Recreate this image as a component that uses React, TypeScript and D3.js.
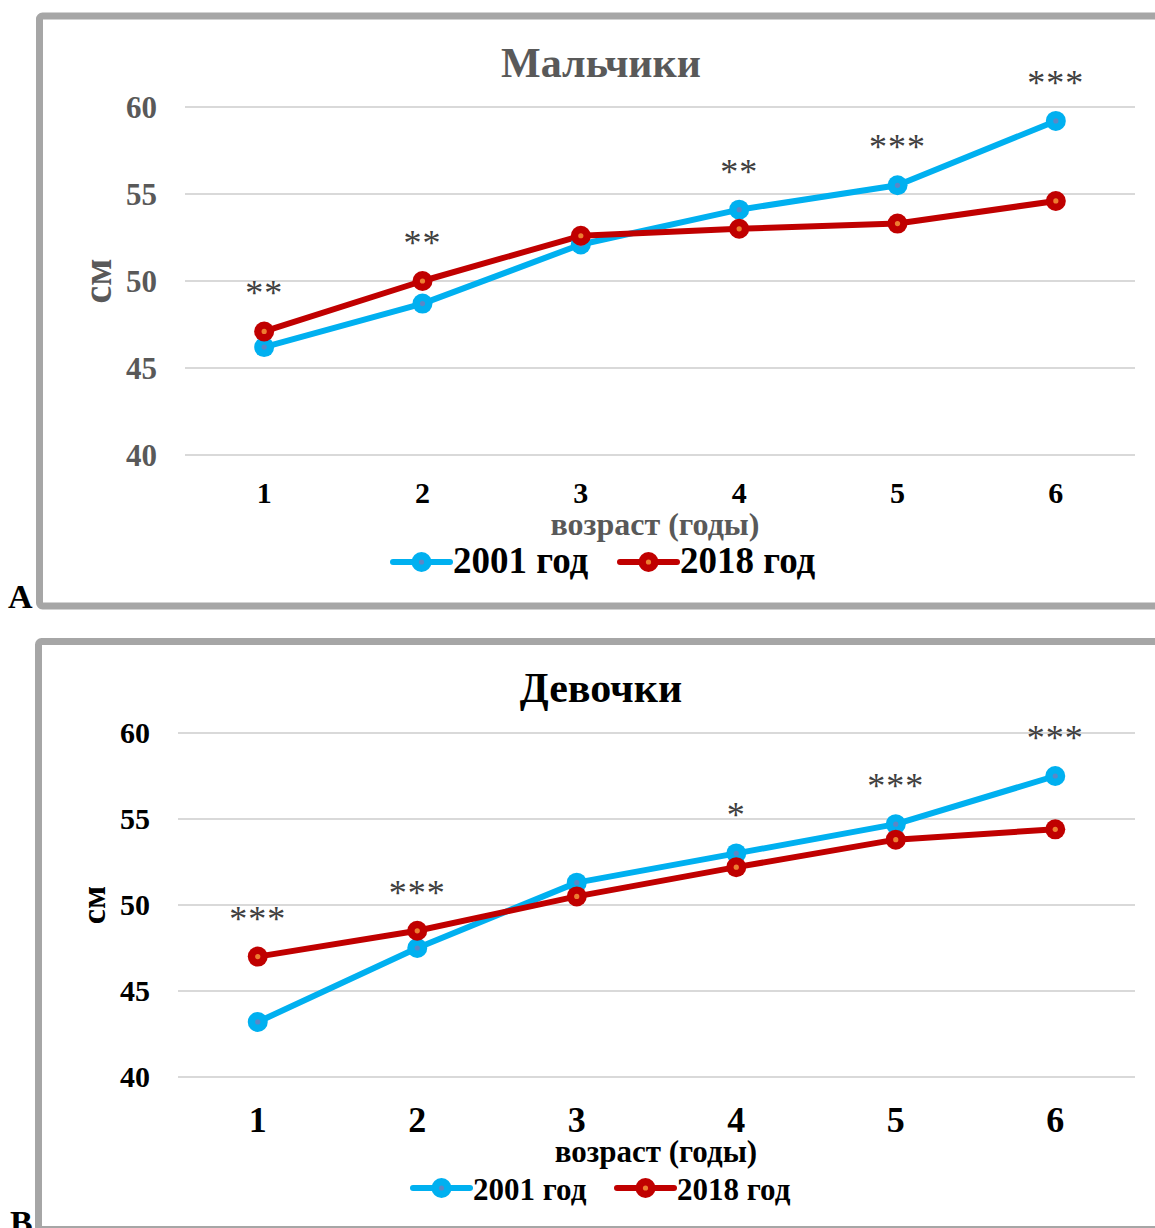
import React from "react";
import * as d3 from "d3";

const ages = ["1", "2", "3", "4", "5", "6"];
const yTicks = [40, 45, 50, 55, 60];
const seriesNames = ["2001 год", "2018 год"];
const boys2001 = [46.2, 48.7, 52.1, 54.1, 55.5, 59.2];
const boys2018 = [47.1, 50.0, 52.6, 53.0, 53.3, 54.6];
const boysSig = ["**", "**", "", "**", "***", "***"];
const girls2001 = [43.2, 47.5, 51.3, 53.0, 54.7, 57.5];
const girls2018 = [47.0, 48.5, 50.5, 52.2, 53.8, 54.4];
const girlsSig = ["***", "***", "", "*", "***", "***"];

const FONT = "'Liberation Serif', 'Times New Roman', serif";
const BLUE = "#00b0f0";
const RED = "#c00000";
const BLUE_DOT = "#5b87c6";
const RED_DOT = "#ed7d31";

type Layout = {
  frameX: number; frameY: number; frameBottom: number;
  letter: string; letterX: number; letterY: number;
  title: string; titleColor: string; titleY: number; titleSize: number;
  plotLeft: number; plotRight: number; yTop: number; yBottom: number;
  tickColor: string; tickRight: number; tickSize: number;
  cmX: number; cmSize: number;
  xLabelY: number; xLabelSize: number;
  axisTitleY: number; axisTitleSize: number; axisTitleColor: string; axisTitleX: number;
  legendY: number; legendTextDy: number; legendSize: number; legendX1: number; legendX2: number;
};

function Marker({ x, y, color, dot }: { x: number; y: number; color: string; dot: string }) {
  return (
    <g>
      <circle cx={x} cy={y} r={10} fill={color} />
      <circle cx={x} cy={y} r={2.6} fill={dot} />
    </g>
  );
}

function Panel({ L, s1, s2, sig }: { L: Layout; s1: number[]; s2: number[]; sig: string[] }) {
  const x = d3.scaleBand<string>().domain(ages).range([L.plotLeft, L.plotRight]);
  const y = d3.scaleLinear().domain([40, 60]).range([L.yBottom, L.yTop]);
  const cx = (a: string) => (x(a) as number) + x.bandwidth() / 2;
  const line = d3
    .line<number>()
    .x((_, i) => cx(ages[i]))
    .y((d) => y(d));
  const series = [
    { vals: s1, color: BLUE, dot: BLUE_DOT },
    { vals: s2, color: RED, dot: RED_DOT },
  ];
  const cyMid = (L.yTop + L.yBottom) / 2;
  return (
    <g fontFamily={FONT} fontWeight="bold">
      <rect
        x={L.frameX}
        y={L.frameY}
        width={1300}
        height={L.frameBottom - L.frameY}
        rx={3}
        fill="#fff"
        stroke="#a6a6a6"
        strokeWidth={7}
      />
      <text x={L.letterX} y={L.letterY} fontSize={34} fill="#000">{L.letter}</text>
      <text x={601} y={L.titleY} textAnchor="middle" fontSize={L.titleSize} fill={L.titleColor}>
        {L.title}
      </text>
      {yTicks.map((t) => (
        <g key={t}>
          <line x1={L.plotLeft} x2={L.plotRight} y1={y(t)} y2={y(t)} stroke="#d9d9d9" strokeWidth={2} />
          <text x={L.tickRight} y={y(t)} dy="0.34em" textAnchor="end" fontSize={L.tickSize} fill={L.tickColor}>
            {t}
          </text>
        </g>
      ))}
      <text
        transform={`translate(${L.cmX},${cyMid}) rotate(-90)`}
        textAnchor="middle"
        dy="0.33em"
        fontSize={L.cmSize}
        fill={L.tickColor}
      >
        см
      </text>
      {ages.map((a) => (
        <text key={a} x={cx(a)} y={L.xLabelY} textAnchor="middle" fontSize={L.xLabelSize} fill="#000">
          {a}
        </text>
      ))}
      <text x={L.axisTitleX} y={L.axisTitleY} textAnchor="middle" fontSize={L.axisTitleSize} fill={L.axisTitleColor}>
        возраст (годы)
      </text>
      {series.map((s, k) => (
        <path key={k} d={line(s.vals) || ""} fill="none" stroke={s.color} strokeWidth={6} strokeLinejoin="round" />
      ))}
      {series.map((s, k) => (
        <g key={"m" + k}>
          {s.vals.map((v, i) => (
            <Marker key={i} x={cx(ages[i])} y={y(v)} color={s.color} dot={s.dot} />
          ))}
        </g>
      ))}
      {sig.map((st, i) =>
        st ? (
          <text
            key={i}
            x={cx(ages[i])}
            y={y(Math.max(s1[i], s2[i])) - 43 + 17}
            textAnchor="middle"
            fontSize={36}
            letterSpacing={1}
            fontWeight="normal"
            fill="#404040"
          >
            {st}
          </text>
        ) : null
      )}
      {[L.legendX1, L.legendX2].map((lx, k) => (
        <g key={"l" + k}>
          <line x1={lx} x2={lx + 57} y1={L.legendY} y2={L.legendY} stroke={series[k].color} strokeWidth={6} strokeLinecap="round" />
          <Marker x={lx + 28.5} y={L.legendY} color={series[k].color} dot={series[k].dot} />
          <text x={lx + 60} y={L.legendY + L.legendTextDy} fontSize={L.legendSize} fill="#000">
            {seriesNames[k]}
          </text>
        </g>
      ))}
    </g>
  );
}

const layoutA: Layout = {
  frameX: 39.5, frameY: 16, frameBottom: 606,
  letter: "A", letterX: 8, letterY: 608,
  title: "Мальчики", titleColor: "#595959", titleY: 77, titleSize: 42,
  plotLeft: 185, plotRight: 1135, yTop: 107, yBottom: 455,
  tickColor: "#595959", tickRight: 157, tickSize: 31,
  cmX: 98, cmSize: 40,
  xLabelY: 503, xLabelSize: 30,
  axisTitleY: 535, axisTitleSize: 32, axisTitleColor: "#595959", axisTitleX: 655,
  legendY: 562, legendTextDy: 11, legendSize: 37, legendX1: 393, legendX2: 620,
};

const layoutB: Layout = {
  frameX: 38.5, frameY: 641.5, frameBottom: 1229.5,
  letter: "B", letterX: 10, letterY: 1234,
  title: "Девочки", titleColor: "#000", titleY: 702, titleSize: 42,
  plotLeft: 178, plotRight: 1135, yTop: 733, yBottom: 1077,
  tickColor: "#000", tickRight: 150, tickSize: 30,
  cmX: 94, cmSize: 34,
  xLabelY: 1132, xLabelSize: 36,
  axisTitleY: 1162, axisTitleSize: 31, axisTitleColor: "#000", axisTitleX: 656,
  legendY: 1188, legendTextDy: 12, legendSize: 31, legendX1: 413, legendX2: 617,
};

export default function App() {
  return (
    <div style={{ position: "absolute", left: 0, top: 0 }}>
      <svg width={1155} height={1228} style={{ display: "block", background: "#fff" }}>
        <Panel L={layoutA} s1={boys2001} s2={boys2018} sig={boysSig} />
        <Panel L={layoutB} s1={girls2001} s2={girls2018} sig={girlsSig} />
      </svg>
    </div>
  );
}
